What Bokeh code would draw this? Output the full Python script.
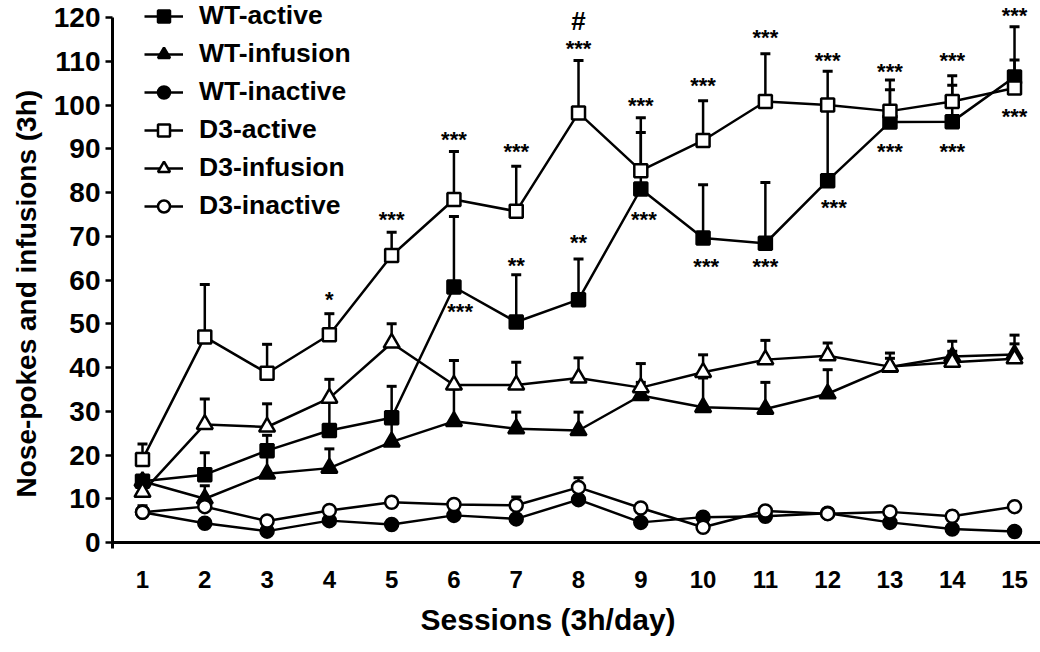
from bokeh.plotting import figure
from bokeh.models import (Range1d, FixedTicker, Span, Legend, LegendItem,
                          LabelSet, Title, ColumnDataSource)
from bokeh.embed import file_html
from bokeh.resources import INLINE
from bokeh.core.properties import value

# ---------------- data ----------------
sessions = list(range(1, 16))
x_tick_labels = [str(s) for s in sessions]
y_ticks = list(range(0, 121, 10))
x_title = "Sessions (3h/day)"
y_title = "Nose-pokes and infusions (3h)"

wt_active = [14, 15.5, 21, 25.6, 28.5, 58.4, 50.4, 55.5, 80.8, 69.6, 68.4, 82.7, 96.1, 96.2, 106.4]
wt_active_err = [0, 5, 3.5, 7.5, 7.2, 16.1, 10.8, 9.3, 12.9, 12.2, 13.9, 17, 7.4, 8.3, 11.5]

wt_infusion = [14, 10, 15.7, 17, 23, 27.7, 26, 25.6, 33.6, 30.9, 30.5, 34, 40.1, 42.5, 43]
wt_infusion_err = [0, 3, 5, 4.4, 5, 7.4, 3.8, 4.2, 3, 6.7, 6.1, 5.5, 2, 3.5, 4.4]

wt_inactive = [6.9, 4.4, 2.6, 5, 4.1, 6.2, 5.4, 9.8, 4.6, 5.8, 6, 6.7, 4.6, 3.1, 2.5]
wt_inactive_err = [0, 0, 0, 0, 0, 0, 0, 0, 0, 0, 0, 1, 0, 0, 0]

d3_active = [19, 47, 38.7, 47.5, 65.6, 78.4, 75.7, 98.2, 85, 91.9, 100.8, 100, 98.6, 100.8, 103.9]
d3_active_err = [3.5, 12, 6.6, 4.8, 5.3, 11, 10.3, 12, 12.1, 9.1, 10.9, 7.7, 7.1, 5.9, 6.4]

d3_infusion = [11.5, 27, 26.4, 33, 45.6, 36, 36, 37.6, 35.4, 38.9, 41.8, 42.7, 40.2, 41.2, 42]
d3_infusion_err = [0, 5.8, 5.3, 4.3, 4.4, 5.6, 5.2, 4.6, 5.5, 4, 4.4, 2.9, 3.1, 2.5, 3.4]

d3_inactive = [6.9, 8.2, 4.9, 7.3, 9.2, 8.7, 8.5, 12.6, 7.9, 3.5, 7.2, 6.6, 7, 6, 8.2]
d3_inactive_err = [1.5, 0, 0, 0, 0, 0, 1.9, 2.2, 0, 0, 0, 0, 0, 0, 0]

# significance marks (session, value at mark centre, text)
ann_x = [4, 5, 6, 6.1, 7, 7, 8, 8, 9, 9.05, 10, 10.05, 11, 11, 12, 12.1, 13, 13, 14, 14, 15, 15]
ann_y = [56, 74.3, 92.6, 53.4, 90, 63.8, 113.4, 69.2, 100.3, 74.4, 105, 63.7, 116, 63.7,
         110.8, 77, 108.1, 90, 110.8, 90, 121, 97.8]
ann_text = ["*", "***", "***", "***", "***", "**", "***", "**", "***", "***", "***", "***",
            "***", "***", "***", "***", "***", "***", "***", "***", "***", "***"]
hash_x = [8]
hash_y = [118.7]
hash_text = ["#"]

# ---------------- figure ----------------
FONT = "Liberation Sans"
PX_PER_UNIT = 4.375
X0, Y0 = 0.5183, -1.371   # data values at the frame's left / bottom edge

p = figure(width=1040, height=652, output_backend="svg", toolbar_location=None,
           x_range=Range1d(X0, 15.417), y_range=Range1d(Y0, 123.886),
           min_border_left=112, min_border_right=0, min_border_top=0,
           min_border_bottom=104)
p.outline_line_color = None
p.xgrid.grid_line_color = None
p.ygrid.grid_line_color = None
p.background_fill_color = "white"

# y axis
ya = p.yaxis[0]
ya.ticker = FixedTicker(ticks=y_ticks)
ya.bounds = (Y0, 120)
ya.axis_line_width = 3
ya.axis_line_color = "black"
ya.major_tick_line_width = 2.5
ya.major_tick_out = 7
ya.major_tick_in = 0
ya.minor_tick_line_color = None
ya.major_label_text_font = FONT
ya.major_label_text_font_size = "28px"
ya.major_label_text_font_style = "bold"
ya.major_label_text_color = "black"
ya.major_label_standoff = 5

# x axis
xa = p.xaxis[0]
xa.ticker = FixedTicker(ticks=sessions)
xa.major_label_overrides = {s: l for s, l in zip(sessions, x_tick_labels)}
xa.axis_line_color = None
xa.major_tick_line_color = None
xa.minor_tick_line_color = None
xa.major_label_text_font = FONT
xa.major_label_text_font_size = "24px"
xa.major_label_text_font_style = "bold"
xa.major_label_text_color = "black"
xa.major_label_standoff = 16

# axis titles as side-panel titles (the reference's are not centred on the frame)
p.add_layout(Title(text=x_title, align="left", offset=308, vertical_align="middle",
                   standoff=22, text_font=FONT, text_font_size="30px",
                   text_font_style="bold", text_color="black"), "below")
p.add_layout(Title(text=y_title, align="left", offset=51, vertical_align="middle",
                   standoff=15, text_font=FONT, text_font_size="28px",
                   text_font_style="bold", text_color="black"), "left")

p.add_layout(Span(location=0, dimension="width", line_color="black", line_width=3))

series = [
    ("WT-active", wt_active, wt_active_err, "square", 13, "black"),
    ("WT-infusion", wt_infusion, wt_infusion_err, "triangle", 16, "black"),
    ("WT-inactive", wt_inactive, wt_inactive_err, "circle", 13, "black"),
    ("D3-active", d3_active, d3_active_err, "square", 13, "white"),
    ("D3-infusion", d3_infusion, d3_infusion_err, "triangle", 16, "white"),
    ("D3-inactive", d3_inactive, d3_inactive_err, "circle", 13, "white"),
]

# error bars (upper SEM) first
for name, vals, errs, mk, sz, fill in series:
    xs = [s for s, e in zip(sessions, errs) if e > 0]
    y0 = [v for v, e in zip(vals, errs) if e > 0]
    y1 = [v + e for v, e in zip(vals, errs) if e > 0]
    if xs:
        p.segment(x0=xs, y0=y0, x1=xs, y1=y1, line_color="black", line_width=2.5)
        p.scatter(x=xs, y=y1, marker="dash", size=10, line_color="black", line_width=3)

# lines
line_r = {}
for name, vals, errs, mk, sz, fill in series:
    line_r[name] = p.line(sessions, vals, line_color="black", line_width=2.5)

# markers
mark_r = {}
for name, vals, errs, mk, sz, fill in series:
    mark_r[name] = p.scatter(sessions, vals, marker=mk, size=sz, fill_color=fill,
                             line_color="black", line_width=2.5)

# legend
items = [LegendItem(label=name, renderers=[line_r[name], mark_r[name]])
         for name, *_ in series]
legend = Legend(items=items, location=(32, 327), orientation="vertical",
                padding=0, margin=0, spacing=7, glyph_width=39, glyph_height=30,
                label_height=30, label_standoff=16,
                label_text_font=FONT, label_text_font_size="26.5px",
                label_text_font_style="bold", label_text_color="black",
                border_line_color=None, background_fill_alpha=0)
p.add_layout(legend)

# significance marks
ast_off = (0.58 * 22 - 3) / PX_PER_UNIT
src = ColumnDataSource(dict(x=ann_x, y=[v - ast_off for v in ann_y], text=ann_text))
p.add_layout(LabelSet(x="x", y="y", text="text", source=src,
                      text_font=value(FONT), text_font_size="22px",
                      text_font_style="bold", text_color="black",
                      text_align="center", text_baseline="alphabetic"))
hash_off = (0.35 * 26 - 2) / PX_PER_UNIT
src2 = ColumnDataSource(dict(x=hash_x, y=[v - hash_off for v in hash_y], text=hash_text))
p.add_layout(LabelSet(x="x", y="y", text="text", source=src2,
                      text_font=value(FONT), text_font_size="26px",
                      text_font_style="bold", text_color="black",
                      text_align="center", text_baseline="alphabetic"))

open("out.html", "w").write(file_html(p, INLINE))
